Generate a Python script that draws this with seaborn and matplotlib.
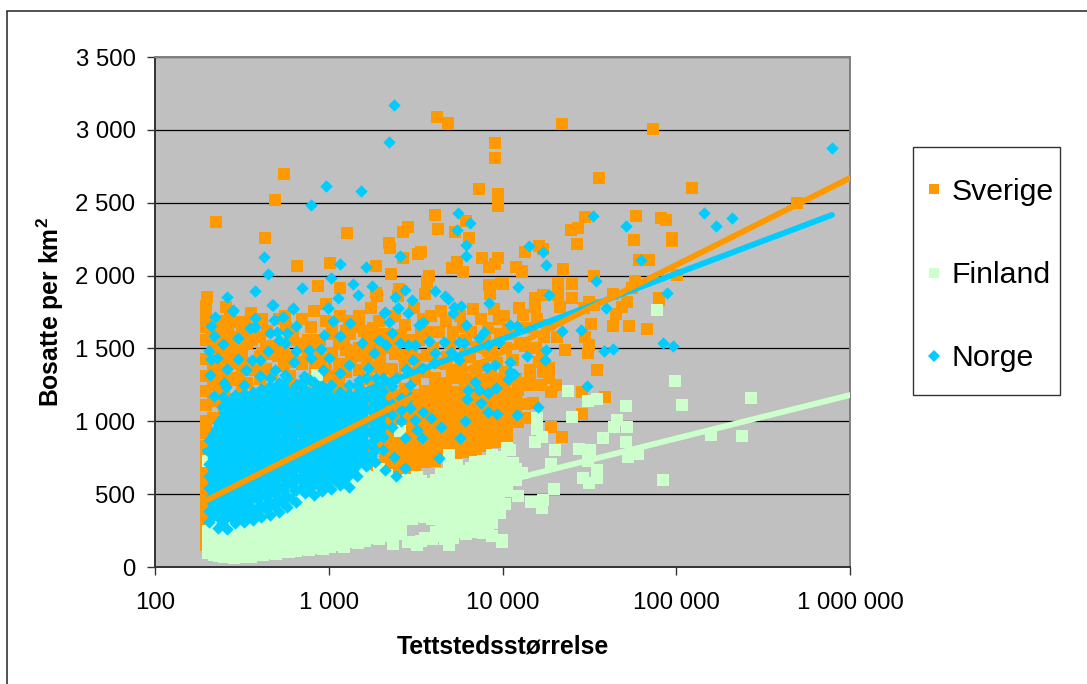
import matplotlib
matplotlib.use('Agg')
import matplotlib.pyplot as plt
import pandas as pd
import seaborn as sns
from matplotlib.lines import Line2D
from matplotlib.patches import Rectangle

# values: (town size, people per km2)
sverige_top = [
    (224, 2368), (550, 2697), (490, 2519), (429, 2258), (660, 2066), (1010, 2086), (870, 1928), (1160, 1915),
    (1270, 2292), (1870, 2066), (2280, 2011), (2220, 2224), (2250, 2190), (2670, 2299), (2850, 2333), (2670, 2120),
    (3260, 2148), (3400, 2162), (4200, 3088), (4840, 3047), (4090, 2416), (4260, 2320), (5330, 2299), (6180, 2375),
    (6400, 2258), (3780, 1997), (3700, 1956), (3600, 1874), (2530, 1908), (2500, 1860), (1870, 1880), (1900, 1860),
    (965, 1805), (7620, 2120), (8370, 2059), (9000, 2080), (9400, 2120), (5100, 2052), (5450, 2093), (5900, 2025),
    (8370, 1935), (9860, 1949), (8480, 1874), (9100, 2910), (9100, 2807), (7300, 2594), (9400, 2560), (9400, 2478),
    (200, 1853), (197, 1791), (256, 1784), (356, 1743),
]
sverige_right = [
    (22000, 3040), (73000, 3006), (35700, 2670), (123000, 2600), (495000, 2498), (30000, 2402), (24900, 2313),
    (27300, 2327), (27000, 2217), (59000, 2409), (82000, 2395), (87500, 2381), (57000, 2244), (94500, 2258),
    (94500, 2237), (16300, 2203), (17000, 2182), (13400, 2162), (11900, 2059), (12900, 2031), (22300, 2045),
    (61000, 2107), (70000, 2107), (33800, 1997), (25000, 1942), (58000, 1956), (21000, 1942), (10000, 1942),
    (101000, 2004), (43500, 1874), (56000, 1915), (80000, 1846), (25000, 1846), (21000, 1867), (17000, 1867),
    (15300, 1846), (15300, 1784), (12400, 1778), (31500, 1819), (21500, 1784), (48500, 1784), (52000, 1819),
    (33800, 1798), (29600, 1778), (80000, 1832), (43000, 1654), (53500, 1654), (68000, 1633), (45000, 1736),
    (32300, 1668), (30000, 1578), (31500, 1523), (31000, 1469), (23000, 1489), (34800, 1352), (20300, 1249),
    (18900, 1201), (28700, 1201), (39000, 1167), (28700, 1050), (18900, 961), (22100, 892), (17400, 1578),
    (20500, 1578), (18100, 1661), (18600, 1366), (18600, 1297), (17000, 1338), (14400, 1352), (14400, 1318),
    (12300, 1263), (12300, 1215), (11900, 1146), (10600, 1167), (10300, 1091), (15000, 1125), (13900, 1023),
    (12300, 995), (10600, 954), (10600, 892), (11300, 1420), (12600, 1540), (14300, 1250), (16200, 1410),
    (13400, 1120), (16600, 1250), (11100, 1600), (13100, 1730), (14800, 1640), (15600, 1500),
]
sverige_middle = [
    (560, 1720), (700, 1700), (820, 1760), (1160, 1720), (1330, 1600), (1500, 1720), (1750, 1780), (1950, 1690),
    (2100, 1600), (2400, 1720), (2750, 1660), (3100, 1780), (3500, 1700), (3900, 1720), (4300, 1610), (4700, 1690),
    (5200, 1610), (5700, 1720), (6200, 1560), (6800, 1770), (7500, 1700), (8200, 1640), (8900, 1770), (9700, 1600),
    (4000, 1500), (4800, 1440), (5500, 1350), (6500, 1440), (7400, 1380), (8300, 1480), (9300, 1400), (10500, 1500),
    (11500, 1420), (12800, 1640), (13500, 1520), (15800, 1700), (16800, 1460), (2700, 1450), (3300, 1560), (1400, 1480),
    (1700, 1540), (1150, 1540), (890, 1560), (760, 1520), (620, 1600), (440, 1620), (360, 1560), (280, 1580),
    (1600, 1620), (1900, 1580), (2250, 1530), (2600, 1590), (3000, 1480), (3400, 1620), (3700, 1450), (4450, 1760),
    (5000, 1530), (5900, 1650), (6600, 1610), (7100, 1510), (7900, 1560), (8700, 1510), (9500, 1700), (10200, 1720),
    (10800, 1630), (1300, 1690), (1050, 1640), (790, 1650), (480, 1520), (520, 1700), (330, 1680), (300, 1490),
    (225, 1250), (262, 1400), (305, 1300), (370, 1350), (415, 1460), (510, 1450), (570, 1420), (700, 1390),
    (960, 1350), (1350, 1410), (225, 1520), (262, 1650), (370, 1640), (415, 1700), (570, 1640), (700, 1530),
    (960, 1690), (1230, 1550), (1580, 1450), (1980, 1430), (2300, 1360), (2900, 1330), (3350, 1360), (4350, 1400),
    (5100, 1340), (5800, 1390), (6700, 1260), (7600, 1290), (8600, 1330), (9700, 1280), (3900, 1610), (2900, 1560),
]
sverige_columns = [
    (196, [150, 210, 280, 350, 430, 510, 590, 670, 750, 830, 920, 1000, 1110, 1210, 1310, 1430, 1560, 1650, 1720]),
    (215, [300, 420, 540, 660, 780, 900, 1020, 1140, 1260, 1380, 1480, 1640]),
    (232, [1180, 1320, 1440, 1560, 1690]),
    (250, [260, 400, 540, 680, 820, 960, 1100, 1230, 1360, 1500, 1610]),
    (270, [1150, 1300, 1450, 1560, 1700]),
    (290, [300, 440, 580, 720, 860, 1000, 1140, 1280, 1400, 1540, 1680]),
    (315, [1210, 1350, 1480, 1610]),
    (340, [300, 440, 580, 720, 860, 1000, 1140, 1260, 1400, 1530]),
    (400, [310, 450, 590, 730, 870, 1010, 1150, 1290, 1440, 1580]),
    (435, [1220, 1360, 1510]),
    (470, [330, 470, 610, 750, 890, 1030, 1170, 1320, 1460]),
    (550, [390, 530, 670, 810, 950, 1090, 1230, 1380, 1510]),
    (600, [1310, 1440, 1560]),
    (650, [430, 560, 700, 840, 980, 1120, 1250, 1410]),
    (760, [470, 600, 740, 880, 1020, 1160, 1290, 1440, 1560]),
    (830, [1230, 1370, 1500]),
    (900, [490, 610, 750, 890, 1030, 1170, 1290, 1430]),
    (1050, [480, 630, 770, 910, 1050, 1190, 1310, 1460, 1600]),
    (1150, [1260, 1390]),
    (1250, [500, 640, 780, 920, 1060, 1200, 1340, 1490, 1620]),
    (1500, [530, 660, 800, 940, 1080, 1220, 1350, 1500, 1650]),
    (1650, [1290, 1420, 1570]),
    (1800, [590, 700, 830, 960, 1100, 1230, 1370, 1520, 1640]),
    (2100, [640, 720, 800, 870, 940, 1010, 1080, 1150, 1220, 1360, 1500]),
    (2400, [620, 690, 760, 830, 900, 970, 1040, 1110, 1180, 1300, 1460]),
    (2750, [660, 730, 800, 870, 940, 1010, 1080, 1150, 1220, 1380]),
    (3150, [690, 760, 830, 900, 970, 1040, 1110, 1180, 1290, 1430]),
    (3600, [720, 790, 860, 930, 1000, 1070, 1140, 1210, 1340]),
    (4100, [730, 800, 870, 940, 1010, 1080, 1150, 1220, 1300]),
    (4700, [760, 830, 900, 970, 1040, 1110, 1180, 1260, 1390]),
    (5400, [780, 850, 920, 990, 1060, 1130, 1200, 1300]),
    (6100, [790, 860, 930, 1000, 1070, 1140, 1210, 1290, 1460]),
    (7000, [800, 870, 940, 1010, 1080, 1150, 1220, 1320]),
    (8000, [830, 900, 970, 1040, 1110, 1180, 1250, 1500]),
    (9100, [860, 930, 1000, 1070, 1140, 1210, 1290]),
    (10400, [880, 950, 1020, 1090, 1240, 1340]),
    (11900, [1000, 1080, 1190, 1290]),
]

finland_right = [
    (77500, 1764), (98000, 1277), (23700, 1208), (31000, 1139), (35200, 1153), (51500, 1105), (108000, 1112),
    (270000, 1160), (15900, 1023), (25000, 1029), (45500, 1009), (44000, 961), (52000, 961), (15900, 947),
    (16800, 892), (15300, 858), (37800, 885), (51500, 858), (158000, 906), (239000, 899), (11000, 803),
    (10600, 817), (20000, 803), (27500, 810), (32000, 803), (31000, 727), (60000, 776), (53000, 755),
    (19000, 707), (11500, 714), (35000, 666), (28900, 611), (31500, 576), (34800, 611), (84000, 597),
    (19700, 535), (12200, 487), (10400, 432), (14600, 446), (17000, 460), (16800, 405), (9900, 185),
    (9900, 172), (9700, 371), (13000, 645), (11700, 652), (9800, 755), (10200, 600), (10400, 540),
    (854, 1317), (2570, 930),
]
finland_columns = [
    (202, [95, 150, 205, 250, 730]),
    (219, [85, 130, 190, 240, 275]),
    (234, [75, 125, 180, 235, 290]),
    (250, [70, 130, 175, 230, 285, 330]),
    (266, [75, 120, 185, 240, 295, 345]),
    (285, [65, 125, 170, 225, 280, 335, 380]),
    (305, [70, 120, 180, 235, 290, 340, 390]),
    (330, [75, 130, 175, 230, 285, 345, 400]),
    (355, [70, 125, 185, 240, 290, 350, 405, 440]),
    (385, [85, 130, 190, 245, 300, 345, 395, 450]),
    (420, [80, 140, 185, 250, 305, 360, 410, 465]),
    (455, [95, 150, 200, 260, 310, 365, 420, 470]),
    (495, [90, 155, 210, 265, 320, 375, 425, 480]),
    (540, [105, 170, 225, 280, 330, 385, 440, 490]),
    (590, [100, 155, 240, 290, 345, 400, 450, 505]),
    (645, [110, 175, 235, 300, 350, 410, 465, 515]),
    (705, [125, 190, 250, 305, 365, 420, 470, 530]),
    (770, [115, 180, 240, 310, 360, 415, 475, 530]),
    (845, [130, 175, 245, 300, 370, 425, 485, 540]),
    (925, [125, 190, 250, 315, 375, 430, 490, 550]),
    (1010, [135, 195, 260, 320, 380, 440, 500, 565]),
    (1110, [150, 210, 270, 330, 390, 450, 510, 575]),
    (1220, [140, 205, 275, 335, 395, 455, 520, 585]),
    (1340, [170, 225, 285, 340, 405, 465, 530, 600]),
    (1480, [165, 235, 290, 350, 410, 470, 540, 620, 690]),
    (1620, [180, 240, 300, 360, 420, 480, 545, 625]),
    (1780, [200, 250, 310, 370, 430, 490, 550, 615]),
    (1950, [190, 255, 315, 380, 440, 500, 560, 620, 670]),
    (2150, [215, 270, 330, 390, 450, 510, 570, 630]),
    (2350, [160, 210, 290, 340, 400, 460, 520, 580]),
    (2600, [225, 300, 350, 410, 470, 530, 590]),
    (2850, [170, 360, 420, 480, 540, 600]),
    (3200, [150, 175, 370, 430, 490, 550, 620]),
    (3600, [200, 345, 380, 440, 500, 560]),
    (3950, [190, 330, 390, 450, 510, 570]),
    (4400, [210, 290, 340, 400, 460, 520, 580, 640]),
    (4900, [150, 250, 310, 360, 420, 480, 540, 600, 700, 770]),
    (5500, [240, 300, 380, 440, 500, 560, 620, 700]),
    (6200, [225, 290, 390, 450, 510, 570, 630]),
    (6900, [260, 320, 400, 470, 530, 590, 650, 720]),
    (7700, [230, 340, 420, 490, 550, 610, 670, 730]),
    (8700, [215, 300, 400, 470, 530, 590, 690, 770]),
    (9600, [420, 480, 540, 610, 670, 740]),
    (10600, [520, 585, 650, 710]),
    (12000, [600, 670]),
    # in between the columns above, where the cloud is solid
    (2030, [225, 285, 350, 410, 470, 530]),
    (2480, [260, 330, 385, 440, 500, 560]),
    (3000, [330, 395, 455, 515, 575]),
    (3400, [180, 350, 410, 470, 530, 590]),
    (4150, [240, 360, 420, 480, 540, 600]),
    (4650, [190, 280, 380, 450, 510, 570]),
    (5200, [200, 330, 395, 460, 520, 580, 650]),
    (5850, [265, 345, 420, 480, 540, 600, 660]),
    (6550, [240, 360, 430, 500, 560, 620, 680]),
    (7300, [290, 380, 450, 520, 580, 640, 700]),
    (8200, [270, 370, 440, 510, 570, 630, 710]),
]

norge_top = [
    (2380, 3170), (2220, 2917), (960, 2615), (1530, 2580), (790, 2484), (425, 2127), (445, 2011), (376, 1894),
    (258, 1853), (700, 1915), (470, 1798), (620, 1778), (1160, 2080), (1030, 1983), (1640, 2059), (1380, 1942),
    (1470, 1867), (1125, 1846), (1780, 1928), (2400, 1853), (2740, 1901), (3030, 1832), (2570, 2134), (4090, 1894),
    (4670, 1860), (4840, 1839), (5550, 2430), (5450, 2313), (6540, 2361), (6180, 2210), (6180, 2134), (8370, 1812),
    (5240, 1784), (5800, 1791), (2500, 1778), (985, 1778), (280, 1764), (2100, 1750),
    (33000, 2409), (51500, 2340), (145000, 2430), (170000, 2340), (210000, 2395), (787000, 2876), (63000, 2107),
    (14200, 2203), (17000, 2162), (17800, 2073), (34500, 1963), (12300, 1922), (18500, 1867), (88000, 1880),
    (84000, 1537), (96000, 1517), (38500, 1482), (43300, 1496), (28400, 1626), (22100, 1619), (19400, 1668),
    (17900, 1489), (17500, 1421), (13800, 1448), (11000, 1407), (11100, 1338), (10800, 1290), (11700, 1325),
    (30600, 1242), (16100, 1098), (12100, 1043), (39500, 1778), (11000, 1661), (12100, 1654),
]
norge_upper = [
    (222, 1718), (209, 1656), (219, 1585), (247, 1528), (204, 1482), (209, 1425), (226, 1432), (207, 1317),
    (260, 1356), (250, 1260), (255, 1233), (219, 1175), (247, 1168), (280, 1759), (377, 1706), (352, 1637),
    (377, 1649), (300, 1569), (300, 1425), (480, 1798), (487, 1695), (546, 1718), (625, 1770), (650, 1656),
    (462, 1608), (505, 1615), (575, 1603), (520, 1557), (560, 1535), (445, 1484), (652, 1484), (635, 1409),
    (362, 1420), (400, 1420), (335, 1352), (400, 1310), (490, 1352), (560, 1317), (720, 1310), (785, 1283),
    (765, 1489), (900, 1493), (790, 1432), (1000, 1432), (935, 1592), (1160, 1585), (1060, 1690), (1325, 1676),
    (990, 1775), (1560, 1539), (1940, 1557), (2130, 1523), (2320, 1603), (2090, 1740), (2230, 1683), (2520, 1775),
    (2850, 1745), (2570, 1535), (2850, 1523), (3120, 1523), (3290, 1660), (3480, 1683), (3760, 1553), (4620, 1546),
    (5060, 1477), (4090, 1466), (4050, 1397), (3050, 1420), (3420, 1368), (2770, 1356), (2430, 1299), (1880, 1294),
    (1830, 1466), (1680, 1363), (1500, 1283), (1310, 1386), (1160, 1333), (925, 1352), (5220, 1740), (6200, 1660),
    (7800, 1615), (7350, 1569), (5600, 1546), (5980, 1535), (8200, 1523), (9500, 1546), (5600, 1420), (8100, 1374),
    (9000, 1386), (6950, 1271), (6370, 1214), (7350, 1214), (8200, 1191), (9200, 1226), (6240, 1152), (7500, 1123),
    (8200, 1065), (9300, 1049), (6050, 1004), (4400, 963), (3900, 1020), (3480, 1065), (3120, 1008), (3200, 940),
    (3420, 882), (2740, 882), (5720, 887), (4300, 745), (2740, 681), (2440, 626), (2100, 665), (2370, 757),
    (2050, 802), (1650, 711),
]
norge_columns = [
    (205, [310, 385, 465, 545, 625, 705, 790, 870]),
    (230, [270, 345, 425, 505, 585, 665, 745, 825, 905, 985]),
    (258, [260, 340, 420, 500, 580, 660, 740, 820, 900, 980, 1060, 1120]),
    (290, [300, 380, 460, 540, 620, 700, 780, 860, 940, 1020, 1100, 1180]),
    (325, [310, 385, 465, 545, 625, 705, 785, 865, 945, 1025, 1105, 1185, 1250]),
    (365, [320, 400, 480, 560, 640, 720, 800, 880, 960, 1040, 1120, 1200]),
    (410, [340, 425, 505, 585, 665, 745, 825, 905, 985, 1065, 1145, 1225]),
    (460, [360, 440, 520, 600, 680, 760, 840, 920, 1000, 1080, 1160, 1240, 1300]),
    (515, [375, 465, 545, 625, 705, 785, 865, 945, 1025, 1105, 1185, 1265]),
    (578, [410, 490, 570, 650, 730, 810, 890, 970, 1050, 1130, 1210, 1295]),
    (650, [445, 530, 610, 690, 770, 850, 930, 1010, 1090, 1170, 1250]),
    (730, [510, 580, 660, 740, 820, 900, 980, 1060, 1140, 1220, 1285]),
    (820, [495, 570, 650, 730, 810, 890, 970, 1050, 1130, 1210, 1270]),
    (920, [520, 600, 680, 760, 840, 920, 1000, 1080, 1160, 1240]),
    (1030, [535, 610, 690, 770, 850, 930, 1010, 1090, 1170, 1250]),
    (1155, [560, 640, 720, 800, 880, 960, 1040, 1120, 1200]),
    (1300, [550, 630, 710, 790, 870, 950, 1030, 1110, 1190, 1250]),
    (1460, [625, 700, 780, 860, 940, 1020, 1100, 1180, 1250]),
    (1640, [690, 770, 850, 930, 1010, 1090, 1170, 1300]),
    (1840, [720, 800, 880, 960, 1040, 1120, 1200]),
    (2060, [890, 970, 1050, 1130, 1210, 1300]),
    (2310, [960, 1040, 1120, 1240]),
    (2600, [1000, 1080, 1160]),
    (2920, [1090, 1170, 1250]),
]
# second pass over the solid part of the Norway cloud
norge_fill = [
    (217, [350, 430, 510, 590, 670, 750, 830, 910]),
    (244, [300, 380, 460, 540, 620, 700, 780, 860, 940, 1020, 1100]),
    (274, [340, 420, 500, 580, 660, 740, 820, 900, 980, 1060, 1140]),
    (307, [350, 425, 505, 585, 665, 745, 825, 905, 985, 1065, 1145]),
    (345, [360, 440, 520, 600, 680, 760, 840, 920, 1000, 1080, 1160]),
    (387, [380, 465, 545, 625, 705, 785, 865, 945, 1025, 1105, 1185]),
    (434, [400, 480, 560, 640, 720, 800, 880, 960, 1040, 1120, 1200]),
    (487, [420, 505, 585, 665, 745, 825, 905, 985, 1065, 1145, 1225]),
    (546, [440, 530, 610, 690, 770, 850, 930, 1010, 1090, 1170, 1250]),
    (613, [470, 570, 650, 730, 810, 890, 970, 1050, 1130, 1210]),
    (690, [540, 620, 700, 780, 860, 940, 1020, 1100, 1180, 1260]),
    (775, [540, 620, 700, 780, 860, 940, 1020, 1100, 1180]),
    (870, [560, 640, 720, 800, 880, 960, 1040, 1120, 1200]),
    (975, [570, 650, 730, 810, 890, 970, 1050, 1130, 1210]),
    (1090, [600, 680, 760, 840, 920, 1000, 1080, 1160]),
    (1225, [600, 680, 760, 840, 920, 1000, 1080, 1160]),
    (1380, [670, 750, 830, 910, 990, 1070, 1150]),
    (1550, [730, 810, 890, 970, 1050, 1130, 1210]),
    (1740, [760, 840, 920, 1000, 1080, 1160]),
    (1950, [930, 1010, 1090, 1170]),
    # rows between the passes above
    (223, [395, 470, 550, 630, 710, 790, 870, 950]),
    (250, [340, 420, 500, 580, 660, 740, 820, 900, 980, 1060]),
    (282, [380, 460, 540, 620, 700, 780, 860, 940, 1020, 1100]),
    (316, [390, 470, 550, 630, 710, 790, 870, 950, 1030, 1110]),
    (355, [400, 480, 560, 640, 720, 800, 880, 960, 1040, 1120]),
    (398, [420, 505, 585, 665, 745, 825, 905, 985, 1065, 1145]),
    (447, [440, 520, 600, 680, 760, 840, 920, 1000, 1080, 1160]),
    (500, [460, 545, 625, 705, 785, 865, 945, 1025, 1105, 1185]),
    (560, [490, 570, 650, 730, 810, 890, 970, 1050, 1130, 1210]),
    (630, [530, 610, 690, 770, 850, 930, 1010, 1090, 1170]),
    (710, [580, 660, 740, 820, 900, 980, 1060, 1140, 1220]),
    (800, [580, 660, 740, 820, 900, 980, 1060, 1140]),
    (895, [600, 680, 760, 840, 920, 1000, 1080, 1160]),
    (1000, [610, 690, 770, 850, 930, 1010, 1090, 1170]),
    (1120, [640, 720, 800, 880, 960, 1040, 1120]),
    (1260, [640, 720, 800, 880, 960, 1040, 1120]),
    (1420, [710, 790, 870, 950, 1030, 1110]),
    (1590, [770, 850, 930, 1010, 1090]),
]

# trend lines, first and last point
sverige_trend_size = [189, 1000000]
sverige_trend_density = [446, 2670]
finland_trend_size = [194, 1000000]
finland_trend_density = [75, 1180]
norge_trend_size = [194, 787000]
norge_trend_density = [796, 2416]

y_ticks = [0, 500, 1000, 1500, 2000, 2500, 3000, 3500]
y_labels = ['0', '500', '1 000', '1 500', '2 000', '2 500', '3 000', '3 500']
x_ticks = [100, 1000, 10000, 100000, 1000000]
x_labels = ['100', '1 000', '10 000', '100 000', '1 000 000']

ORANGE = '#FF9900'
GREEN = '#CCFFCC'
BLUE = '#00CCFF'


def expand(columns):
    return [(size, d) for size, densities in columns for d in densities]


sverige = pd.DataFrame(expand(sverige_columns) + sverige_middle + sverige_top + sverige_right,
                       columns=['size', 'density'])
finland = pd.DataFrame(expand(finland_columns) + finland_right, columns=['size', 'density'])
norge = pd.DataFrame(expand(norge_columns) + expand(norge_fill) + norge_upper + norge_top,
                     columns=['size', 'density'])

sns.set_theme(style='white')
plt.rcParams['font.family'] = ['Liberation Sans', 'DejaVu Sans']
plt.rcParams['mathtext.fontset'] = 'custom'
plt.rcParams['mathtext.bf'] = 'Liberation Sans:bold'
plt.rcParams['text.color'] = 'black'

fig = plt.figure(figsize=(10.87, 6.84), dpi=100)
ax = fig.add_axes([155 / 1087, 1 - 567 / 684, 695 / 1087, 510 / 684])
ax.set_facecolor('#C0C0C0')

sns.scatterplot(data=sverige, x='size', y='density', marker='s', s=66, color=ORANGE, linewidth=0, ax=ax, zorder=3)
sns.scatterplot(data=finland, x='size', y='density', marker='s', s=66, color=GREEN, linewidth=0, ax=ax, zorder=4)
sns.scatterplot(data=norge, x='size', y='density', marker='D', s=40, color=BLUE, linewidth=0, ax=ax, zorder=5)

sns.lineplot(x=finland_trend_size, y=finland_trend_density, color=GREEN, lw=4.2, ax=ax, zorder=6)
sns.lineplot(x=norge_trend_size, y=norge_trend_density, color=BLUE, lw=4.2, ax=ax, zorder=7,
             solid_capstyle='round')
sns.lineplot(x=sverige_trend_size, y=sverige_trend_density, color=ORANGE, lw=4.2, ax=ax, zorder=8)

ax.set_xscale('log')
ax.set_xlim(100, 1000000)
ax.set_ylim(0, 3500)
ax.set_xticks(x_ticks)
ax.set_xticklabels(x_labels)
ax.set_yticks(y_ticks)
ax.set_yticklabels(y_labels)
ax.minorticks_off()
ax.tick_params(axis='both', which='major', labelsize=17.3, length=5.5, width=1, color='#333333',
               bottom=True, left=True, labelcolor='black')
ax.tick_params(axis='y', pad=8.5)
ax.tick_params(axis='x', pad=12.5)
ax.grid(False)
ax.yaxis.grid(True, color='black', lw=0.9)
ax.set_axisbelow(True)

for side in ['left', 'bottom']:
    ax.spines[side].set_color('#333333')
    ax.spines[side].set_linewidth(1.4)
for side in ['top', 'right']:
    ax.spines[side].set_color('#808080')
    ax.spines[side].set_linewidth(1.4)

ax.set_xlabel('Tettstedsstørrelse', fontsize=17.8, fontweight='bold', labelpad=15, color='black')
ax.set_ylabel(r'Bosatte per km$\mathbf{^2}$', fontsize=17.8, fontweight='bold', labelpad=7, color='black')

handles = [
    Line2D([], [], marker='s', ls='', color=ORANGE, markersize=7.4, markeredgewidth=0),
    Line2D([], [], marker='s', ls='', color=GREEN, markersize=7.4, markeredgewidth=0),
    Line2D([], [], marker='D', ls='', color=BLUE, markersize=6, markeredgewidth=0),
]
fig.add_artist(Rectangle((913 / 1087, 1 - 395 / 684), 147 / 1087, 248 / 684, transform=fig.transFigure,
                         facecolor='white', edgecolor='#333333', lw=1))
fig.legend(handles, ['Sverige', 'Finland', 'Norge'], loc='upper left',
           bbox_to_anchor=(925 / 1087, 1 - 178 / 684), fontsize=21.8, frameon=False, borderpad=0,
           labelspacing=1.82, handletextpad=0.27, handlelength=0.6, borderaxespad=0)

# outer chart frame, runs off the picture on the right and at the bottom
fig.add_artist(Rectangle((6.5 / 1087, -0.02), 1.05, 1 - 11 / 684 + 0.02, transform=fig.transFigure,
                         fill=False, edgecolor='#222222', lw=1.1))

fig.savefig('out.png', dpi=100)
